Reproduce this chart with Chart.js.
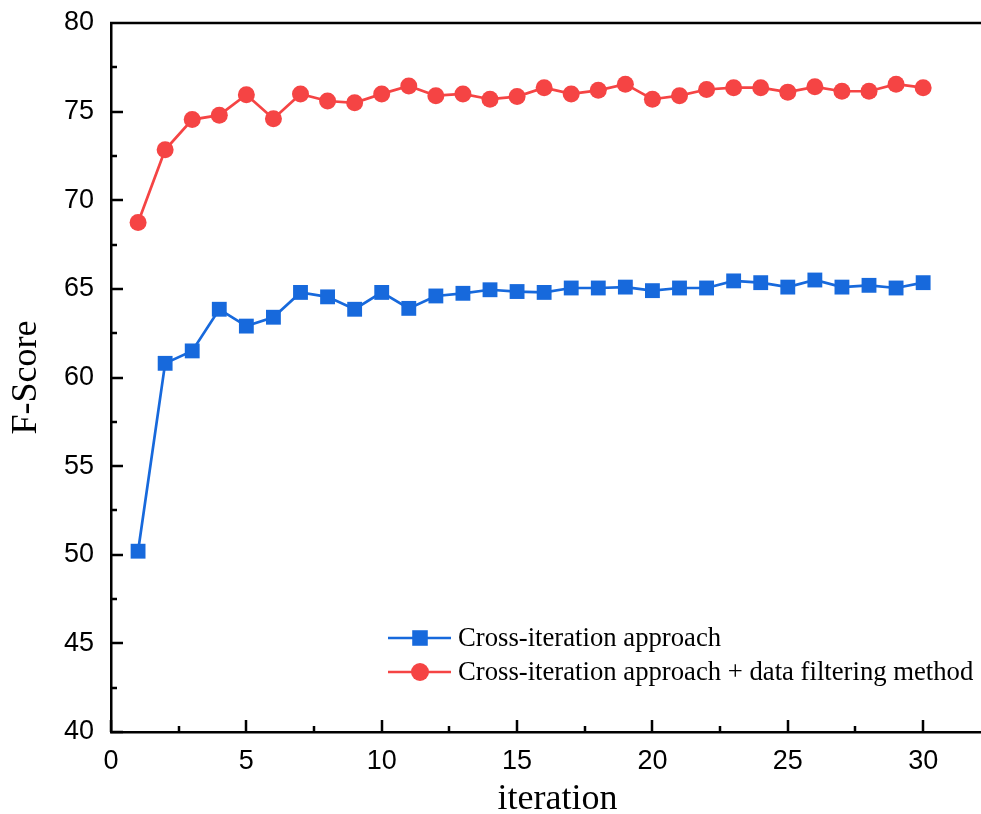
<!DOCTYPE html>
<html>
<head>
<meta charset="utf-8">
<script src="https://cdn.jsdelivr.net/npm/chart.js@4/dist/chart.umd.min.js"></script>
<style>
  body { margin: 0; background: #fff; }
  #wrap { width: 981px; height: 814px; }
</style>
</head>
<body>
<div id="wrap"><canvas id="chart" width="981" height="814"></canvas></div>
<script>
const iterations = [1, 2, 3, 4, 5, 6, 7, 8, 9, 10, 11, 12, 13, 14, 15, 16, 17, 18, 19, 20, 21, 22, 23, 24, 25, 26, 27, 28, 29, 30]
const crossIter = [50.2, 60.8, 61.5, 63.85, 62.9, 63.4, 64.8, 64.55, 63.85, 64.8, 63.9, 64.6, 64.75, 64.95, 64.85, 64.8, 65.05, 65.05, 65.1, 64.9, 65.05, 65.05, 65.45, 65.35, 65.1, 65.5, 65.1, 65.2, 65.05, 65.35]
const filtered = [68.75, 72.85, 74.55, 74.8, 75.95, 74.6, 76.0, 75.6, 75.5, 76.0, 76.45, 75.9, 76.0, 75.7, 75.85, 76.35, 76.0, 76.2, 76.55, 75.7, 75.9, 76.25, 76.35, 76.35, 76.1, 76.4, 76.15, 76.15, 76.55, 76.35]
const xTicks = [0, 5, 10, 15, 20, 25, 30]
const xMinor = [2.5, 7.5, 12.5, 17.5, 22.5, 27.5]
const yTicks = [40, 45, 50, 55, 60, 65, 70, 75, 80]
const yMinor = [42.5, 47.5, 52.5, 57.5, 62.5, 67.5, 72.5, 77.5]
const seriesNames = ['Cross-iteration approach', 'Cross-iteration approach + data filtering method']
const xTitle = 'iteration'

const blue = '#1769dc'
const red = '#f54444'

function toPoints(ys) {
    return iterations.map((x, i) => ({ x: x, y: ys[i] }))
}

// tick marks point inward and there is a top frame line, so draw them here
const innerTicks = {
    id: 'innerTicks',
    afterDraw(chart) {
        const ctx = chart.ctx
        const xs = chart.scales.x
        const ys = chart.scales.y
        const area = chart.chartArea
        ctx.save()
        ctx.strokeStyle = '#000'
        ctx.lineWidth = 2.5
        ctx.beginPath()
        ctx.moveTo(area.left - 1, area.top)
        ctx.lineTo(chart.width, area.top)
        xTicks.forEach(v => {
            const px = Math.round(xs.getPixelForValue(v))
            ctx.moveTo(px, area.bottom)
            ctx.lineTo(px, area.bottom - 12)
        })
        xMinor.forEach(v => {
            const px = Math.round(xs.getPixelForValue(v))
            ctx.moveTo(px, area.bottom)
            ctx.lineTo(px, area.bottom - 6)
        })
        yTicks.forEach(v => {
            const py = Math.round(ys.getPixelForValue(v))
            ctx.moveTo(area.left, py)
            ctx.lineTo(area.left + 12, py)
        })
        yMinor.forEach(v => {
            const py = Math.round(ys.getPixelForValue(v))
            ctx.moveTo(area.left, py)
            ctx.lineTo(area.left + 6, py)
        })
        ctx.stroke()

        // x axis title sits a little right of the plot centre in the original
        ctx.fillStyle = '#000'
        ctx.font = '36px "Liberation Serif"'
        ctx.textAlign = 'center'
        ctx.textBaseline = 'alphabetic'
        ctx.fillText(xTitle, (area.left + area.right) / 2 + 12, 809)
        ctx.restore()
    }
}

// legend with line + marker, like the original plot
const lineLegend = {
    id: 'lineLegend',
    afterDraw(chart) {
        const ctx = chart.ctx
        const area = chart.chartArea
        const left = area.left + 277
        const rows = [area.top + 615, area.top + 649]
        ctx.save()
        chart.data.datasets.forEach((ds, i) => {
            const y = rows[i]
            ctx.strokeStyle = ds.borderColor
            ctx.lineWidth = 2.7
            ctx.beginPath()
            ctx.moveTo(left, y)
            ctx.lineTo(left + 63, y)
            ctx.stroke()
            ctx.fillStyle = ds.borderColor
            Chart.helpers.drawPoint(ctx, { pointStyle: ds.pointStyle, radius: ds.pointRadius + 0.5, rotation: 0 }, left + 32, y)
            ctx.fillStyle = '#000'
            ctx.font = '26.7px "Liberation Serif"'
            ctx.textBaseline = 'middle'
            ctx.fillText(ds.label, left + 70, y + 1)
        })
        ctx.restore()
    }
}

new Chart(document.getElementById('chart'), {
    type: 'line',
    data: {
        datasets: [{
                label: seriesNames[0],
                data: toPoints(crossIter),
                borderColor: blue,
                backgroundColor: blue,
                borderWidth: 2.7,
                pointStyle: 'rect',
                pointRadius: 10.5,
                pointBorderWidth: 0,
                tension: 0
            },
            {
                label: seriesNames[1],
                data: toPoints(filtered),
                borderColor: red,
                backgroundColor: red,
                borderWidth: 2.7,
                pointStyle: 'circle',
                pointRadius: 8.5,
                pointBorderWidth: 0,
                tension: 0
            }
        ]
    },
    options: {
        responsive: false,
        animation: false,
        layout: {
            autoPadding: false,
            padding: { left: 0, right: 1, top: 23, bottom: 0 }
        },
        plugins: {
            legend: { display: false },
            tooltip: { enabled: false }
        },
        scales: {
            x: {
                type: 'linear',
                min: 0,
                max: 32.1,
                afterBuildTicks: scale => {
                    scale.ticks = xTicks.map(v => ({ value: v }))
                },
                afterFit: scale => {
                    scale.height = 82
                    scale.paddingLeft = 0
                    scale.paddingRight = 0
                },
                grid: { display: false, drawTicks: false },
                border: { display: true, color: '#000', width: 2.5 },
                ticks: {
                    color: '#000',
                    padding: 13,
                    maxRotation: 0,
                    font: { family: '"Liberation Sans", Arial', size: 27 }
                }
            },
            y: {
                min: 40,
                max: 80,
                afterBuildTicks: scale => {
                    scale.ticks = yTicks.map(v => ({ value: v }))
                },
                afterFit: scale => {
                    scale.width = 111
                    scale.paddingTop = 0
                    scale.paddingBottom = 0
                },
                grid: { display: false, drawTicks: false },
                border: { display: true, color: '#000', width: 2.5 },
                ticks: {
                    color: '#000',
                    padding: 17,
                    font: { family: '"Liberation Sans", Arial', size: 27 }
                },
                title: {
                    display: true,
                    text: 'F-Score',
                    color: '#000',
                    padding: { top: 9, bottom: 0 },
                    font: { family: '"Liberation Serif", "Times New Roman"', size: 36, lineHeight: 1 }
                }
            }
        }
    },
    plugins: [innerTicks, lineLegend]
});
</script>
</body>
</html>
